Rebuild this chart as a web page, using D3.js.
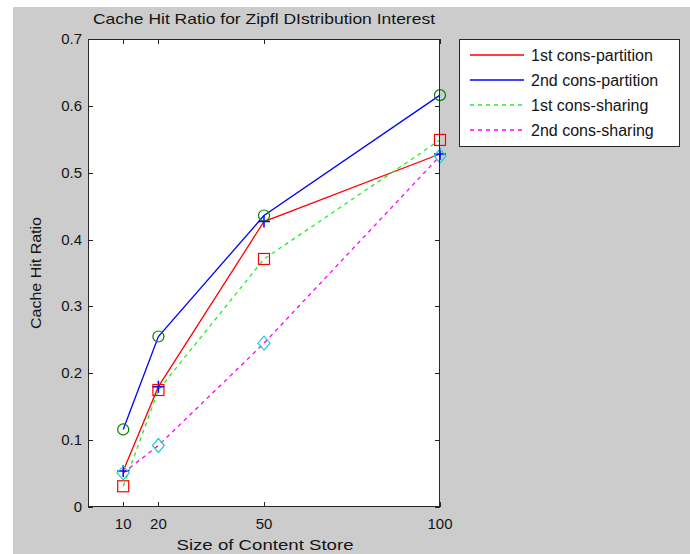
<!DOCTYPE html>
<html><head><meta charset="utf-8">
<script src="https://cdn.jsdelivr.net/npm/d3@7"></script>
<style>body{margin:0;background:#fff}svg{display:block}text{font-family:"Liberation Sans",Arial,sans-serif;fill:#141414}</style>
</head><body>
<svg id="c" width="690" height="554"></svg>
<script>
const sizes = [10, 20, 50, 100];
const xTicks = [10, 20, 50, 100];
const yTicks = [0, 0.1, 0.2, 0.3, 0.4, 0.5, 0.6, 0.7];
// line series
const firstPartition = [0.054, 0.180, 0.427, 0.528];
const secondPartition = [0.116, 0.255, 0.436, 0.616];
const firstSharing = [0.031, 0.175, 0.371, 0.549];
const secondSharing = [0.051, 0.092, 0.245, 0.525];
const seriesNames = ["1st cons-partition", "2nd cons-partition", "1st cons-sharing", "2nd cons-sharing"];

const svg = d3.select("#c");
svg.append("rect").attr("x",13).attr("y",7).attr("width",677).attr("height",547).attr("fill","#cccccc");

const L=88,R=440,T=39,B=507;
const x = d3.scaleLinear().domain([0,100]).range([L,R]);
const y = d3.scaleLinear().domain([0,0.7]).range([B,T]);

svg.append("rect").attr("x",L).attr("y",T).attr("width",R-L).attr("height",B-T).attr("fill","#fff");

const g = svg.append("g");
const line = d3.line().x((d,i)=>x(sizes[i])).y(d=>y(d));
const series = [
  {data:firstPartition, color:"#ff0000", dash:null, marker:"plus", mcolor:"#0000ff"},
  {data:secondPartition, color:"#0000ff", dash:null, marker:"circle", mcolor:"#008000"},
  {data:firstSharing, color:"#22ee22", dash:"4,4", marker:"square", mcolor:"#ff0000"},
  {data:secondSharing, color:"#ff00ff", dash:"4,4", marker:"diamond", mcolor:"#22cccc"}
];
series.forEach(s=>{
  g.append("path").attr("d",line(s.data)).attr("fill","none").attr("stroke",s.color)
   .attr("stroke-width",1.3).attr("stroke-dasharray",s.dash);
});
series.forEach(s=>{
  s.data.forEach((v,i)=>{
    const cx=x(sizes[i]), cy=y(v);
    if(s.marker==="circle") g.append("circle").attr("cx",cx).attr("cy",cy).attr("r",5.5).attr("fill","none").attr("stroke",s.mcolor).attr("stroke-width",1.2);
    else if(s.marker==="square") g.append("rect").attr("x",cx-5.5).attr("y",cy-5.5).attr("width",11).attr("height",11).attr("fill","none").attr("stroke",s.mcolor).attr("stroke-width",1.2);
    else if(s.marker==="diamond") g.append("path").attr("d",`M${cx},${cy-7}L${cx+6},${cy}L${cx},${cy+7}L${cx-6},${cy}Z`).attr("fill","none").attr("stroke",s.mcolor).attr("stroke-width",1.2);
    else g.append("path").attr("d",`M${cx-6},${cy}H${cx+6}M${cx},${cy-6}V${cy+6}`).attr("stroke",s.mcolor).attr("stroke-width",1.5);
  });
});

// axes frame
const ax = svg.append("g").attr("stroke","#262626").attr("stroke-width",1);
ax.append("rect").attr("x",L+0.5).attr("y",T+0.5).attr("width",R-L-1).attr("height",B-T-1).attr("fill","none");
xTicks.forEach(t=>{
  const px=Math.round(x(t))+0.5;
  ax.append("line").attr("x1",px).attr("x2",px).attr("y1",B).attr("y2",B-5);
  ax.append("line").attr("x1",px).attr("x2",px).attr("y1",T).attr("y2",T+5);
});
yTicks.forEach(t=>{
  const py=Math.round(y(t))+0.5;
  ax.append("line").attr("x1",L).attr("x2",L+5).attr("y1",py).attr("y2",py);
  ax.append("line").attr("x1",R).attr("x2",R-5).attr("y1",py).attr("y2",py);
});
const fmt = d3.format(".1f");
yTicks.forEach(t=>{
  svg.append("text").attr("x",L-6).attr("y",y(t)+5).attr("text-anchor","end").attr("font-size",15).text(t===0?"0":fmt(t));
});
xTicks.forEach(t=>{
  svg.append("text").attr("x",x(t)).attr("y",B+22).attr("text-anchor","middle").attr("font-size",15).text(t);
});
svg.append("text").attr("x",(L+R)/2).attr("y",24).attr("text-anchor","middle").attr("font-size",15)
  .attr("textLength",342).attr("lengthAdjust","spacingAndGlyphs").text("Cache Hit Ratio for Zipfl DIstribution Interest");
svg.append("text").attr("x",(L+R)/2+1).attr("y",550).attr("text-anchor","middle").attr("font-size",15)
  .attr("textLength",177).attr("lengthAdjust","spacingAndGlyphs").text("Size of Content Store");
svg.append("text").attr("transform",`translate(41,${(T+B)/2}) rotate(-90)`).attr("text-anchor","middle").attr("font-size",15)
  .attr("textLength",112).attr("lengthAdjust","spacingAndGlyphs").text("Cache Hit Ratio");

// legend
const lg = svg.append("g");
lg.append("rect").attr("x",459.5).attr("y",39.5).attr("width",220).attr("height",107).attr("fill","#fff").attr("stroke","#262626");
const rowY=[55,80,105,130];
series.forEach((s,i)=>{
  lg.append("line").attr("x1",470).attr("x2",524).attr("y1",rowY[i]).attr("y2",rowY[i]).attr("stroke",s.color).attr("stroke-width",1.6).attr("stroke-dasharray",s.dash);
  lg.append("text").attr("x",531).attr("y",rowY[i]+5.5).attr("font-size",16).text(seriesNames[i]);
});
</script>
</body></html>
